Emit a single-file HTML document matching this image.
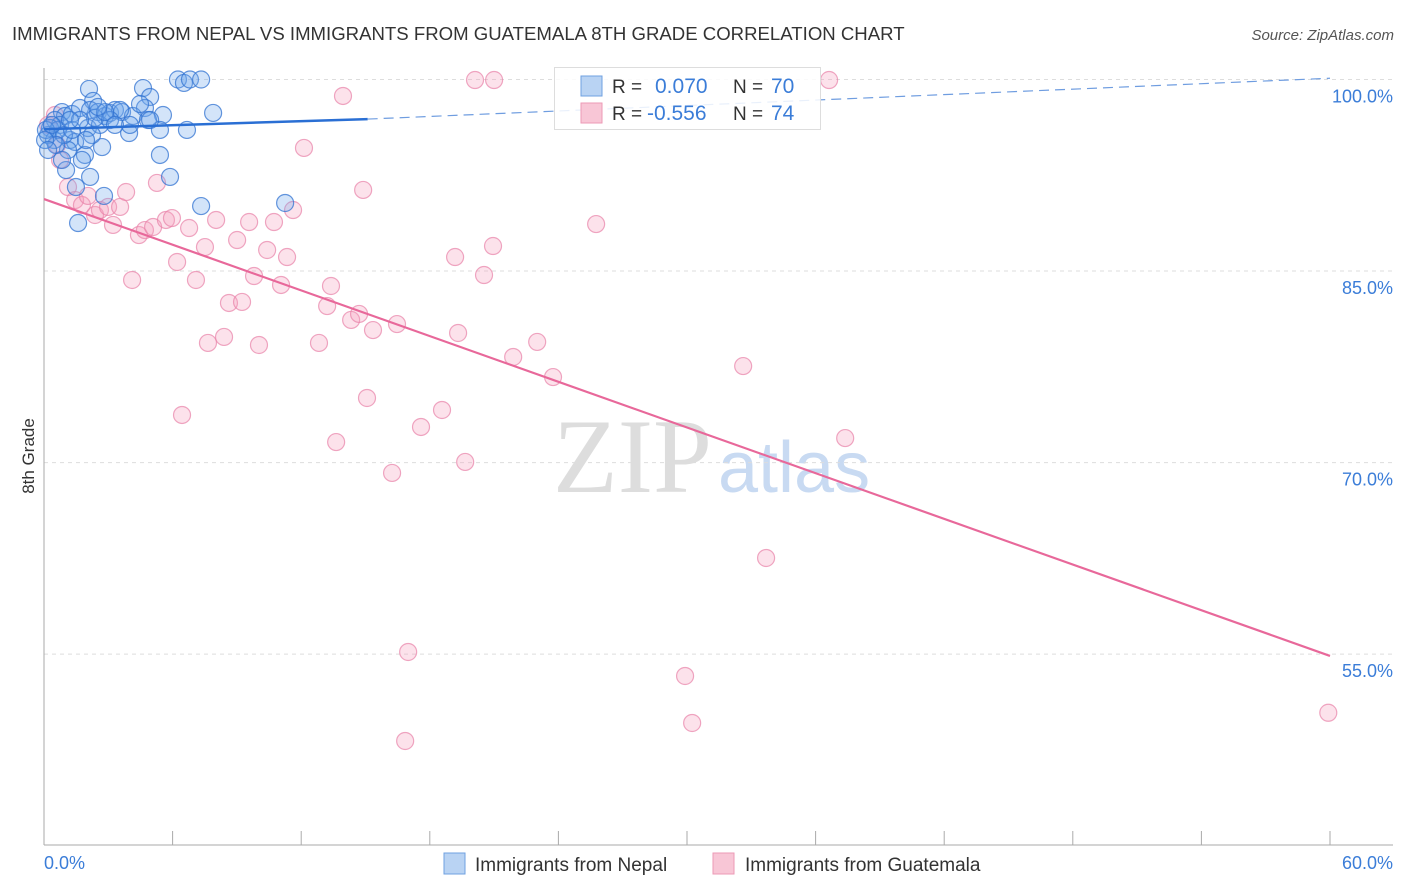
<!DOCTYPE html>
<html><head><meta charset="utf-8"><style>
body{margin:0;background:#fff;font-family:"Liberation Sans",sans-serif;}
svg{display:block}
</style></head><body>
<svg id="chart" width="1406" height="892">
<text x="12" y="40" font-size="18.6" fill="#333">IMMIGRANTS FROM NEPAL VS IMMIGRANTS FROM GUATEMALA 8TH GRADE CORRELATION CHART</text>
<text x="1394" y="40" font-size="15" fill="#555" text-anchor="end" font-style="italic">Source: ZipAtlas.com</text>
<text transform="translate(34,456) rotate(-90)" font-size="17" fill="#333" text-anchor="middle">8th Grade</text>
<g>
<text x="553" y="492" font-size="106" fill="#ddd" font-family="Liberation Serif,serif">ZIP</text>
<text x="718" y="492" font-size="72" fill="#c8daf2">atlas</text>
</g>
<g id="grid"></g>
<g id="axes"></g>
<g id="marks"></g>
<g>
<rect x="554.5" y="67.5" width="266" height="62" fill="rgba(255,255,255,0.85)" stroke="#ddd"/>
<rect x="581" y="76" width="21" height="20" fill="#b9d3f3" stroke="#6fa0e0"/>
<rect x="581" y="103" width="21" height="20" fill="#f8c6d6" stroke="#ec9ab6"/>
<text x="612" y="93" font-size="19" fill="#333">R =</text>
<text x="655" y="93" font-size="21" fill="#3b7dd8">0.070</text>
<text x="733" y="93" font-size="19" fill="#333">N =</text>
<text x="771" y="93" font-size="21" fill="#3b7dd8">70</text>
<text x="612" y="120" font-size="19" fill="#333">R =</text>
<text x="647" y="120" font-size="21" fill="#3b7dd8">-0.556</text>
<text x="733" y="120" font-size="19" fill="#333">N =</text>
<text x="771" y="120" font-size="21" fill="#3b7dd8">74</text>
</g>
<g>
<rect x="444" y="853" width="21" height="21" fill="#b9d3f3" stroke="#6fa0e0"/>
<text x="475" y="871" font-size="19" fill="#333">Immigrants from Nepal</text>
<rect x="713" y="853" width="21" height="21" fill="#f8c6d6" stroke="#ec9ab6"/>
<text x="745" y="871" font-size="19" fill="#333">Immigrants from Guatemala</text>
</g>
</svg>
<script>
const yTicks=[100,85,70,55];
const yTickLabels=["100.0%","85.0%","70.0%","55.0%"];
const xEndLabels=["0.0%","60.0%"];
const nepalX=[6.25,6.53,6.81,7.33,2.10,4.62,4.95,2.29,0.84,0.98,1.31,1.68,2.15,2.52,2.85,3.08,3.31,3.64,4.71,4.15,5.55,7.89,0.51,0.75,0.28,0.19,0.47,1.21,2.05,2.61,3.97,5.41,6.67,4.85,1.45,1.12,2.71,1.91,5.41,1.77,1.03,2.15,5.88,1.49,2.80,7.33,11.25,1.59,3.55,2.38,0.65,0.93,0.09,0.37,0.56,1.31,1.68,3.08,0.05,0.19,2.85,4.01,2.24,0.84,4.48,1.96,2.52,4.95,1.21,3.31];
const nepalY=[100.0,99.73,100,100,99.26,99.33,98.63,98.32,97.45,97.14,97.30,97.77,97.61,97.45,97.14,97.38,97.61,97.45,97.77,97.14,97.22,97.38,96.83,96.44,96.20,95.65,95.26,95.26,96.20,96.44,95.81,96.05,96.05,96.83,95.11,94.48,94.71,94.09,94.09,93.70,92.91,92.37,92.37,91.58,90.88,90.09,90.33,88.76,97.61,96.99,96.05,95.65,96.05,96.44,94.87,96.05,96.83,96.83,95.26,94.48,97.45,96.44,95.65,93.70,98.08,95.26,97.85,96.83,96.83,96.44];
const guatX=[20.11,21.00,36.63,13.95,12.13,0.51,0.19,0.61,0.75,1.12,1.45,1.77,2.05,2.38,2.61,2.99,3.22,3.55,3.83,4.11,4.43,4.71,5.09,5.27,5.69,5.97,6.21,6.44,6.77,7.09,7.51,7.65,8.03,8.40,8.63,9.01,9.24,9.57,9.80,10.03,10.41,10.73,11.06,11.34,11.62,12.83,13.21,13.39,13.63,14.33,14.70,14.89,15.07,15.35,16.24,16.47,16.85,16.99,17.59,18.57,19.18,19.32,19.65,20.53,20.95,21.89,23.01,23.75,25.76,29.91,30.24,32.62,33.69,37.38,59.92];
const guatY=[99.96,99.96,99.96,98.71,94.64,97.22,96.44,94.87,93.70,91.58,90.56,90.17,90.88,89.39,89.78,90.02,88.61,90.02,91.19,84.30,87.82,88.21,88.45,91.90,89.00,89.15,85.71,73.73,88.37,84.30,86.88,79.37,89.00,79.84,82.50,87.43,82.58,88.84,84.61,79.21,86.65,88.84,83.91,86.10,89.78,79.37,82.26,83.83,71.61,81.17,81.64,91.35,75.06,80.38,69.19,80.85,48.20,55.17,72.79,74.12,86.10,80.15,70.05,84.69,86.96,78.27,79.45,76.70,88.68,53.29,49.61,77.56,62.53,71.92,50.41];
const nepalTrend=[[0,96.1],[15.1,96.9],[60,100.1]];
const guatTrend=[[0,90.64],[60,54.86]];

const NS="http://www.w3.org/2000/svg";
const X=v=>44+v*(1286/60);
const Y=v=>79.5+(100-v)*12.77;
function mk(tag,attrs,parent){const e=document.createElementNS(NS,tag);for(const k in attrs)e.setAttribute(k,attrs[k]);parent.appendChild(e);return e;}
const grid=document.getElementById('grid'),axes=document.getElementById('axes'),marks=document.getElementById('marks');
yTicks.forEach((t,i)=>{
  const l=mk('line',{x1:44,x2:1393,y1:Y(t),y2:Y(t),stroke:'#ddd','stroke-dasharray':'4,4'},grid);
  
  
  const tx=mk('text',{x:1393,y:Y(t)+23,'font-size':18,fill:'#3b7dd8','text-anchor':'end'},axes);
  tx.textContent=yTickLabels[i];
  
  
});
let ax=mk('line',{x1:44,x2:44,y1:68,y2:845,stroke:'#aaa'},axes);


ax=mk('line',{x1:44,x2:1393,y1:845,y2:845,stroke:'#aaa'},axes);


for(let k=1;k<=10;k++){
  const t=mk('line',{x1:X(k*6),x2:X(k*6),y1:831,y2:845,stroke:'#aaa'},axes);
  
  
}
[[0,'start',44],[60,'end',1393]].forEach((d,i)=>{
  const t=mk('text',{x:d[2],y:869,'font-size':18,fill:'#3b7dd8','text-anchor':d[1]},axes);
  t.textContent=xEndLabels[i];
  
  
});
function dots(xs,ys,fill,stroke,name){
  xs.forEach((v,i)=>{
    const c=mk('circle',{cx:X(v),cy:Y(ys[i]),r:8.5,fill:fill,stroke:stroke,'stroke-width':1.2},marks);
    
    
  });
}
dots(guatX,guatY,'rgba(244,160,190,0.3)','rgba(232,130,168,0.7)','point-guatemala');
dots(nepalX,nepalY,'rgba(110,165,235,0.3)','rgba(50,115,210,0.75)','point-nepal');
let ln=mk('line',{x1:X(nepalTrend[0][0]),y1:Y(nepalTrend[0][1]),x2:X(nepalTrend[1][0]),y2:Y(nepalTrend[1][1]),stroke:'#2a6fd4','stroke-width':2.5},marks);


ln=mk('line',{x1:X(nepalTrend[1][0]),y1:Y(nepalTrend[1][1]),x2:X(nepalTrend[2][0]),y2:Y(nepalTrend[2][1]),stroke:'#6f9de0','stroke-width':1.2,'stroke-dasharray':'10,6'},marks);


ln=mk('line',{x1:X(guatTrend[0][0]),y1:Y(guatTrend[0][1]),x2:X(guatTrend[1][0]),y2:Y(guatTrend[1][1]),stroke:'#e8689a','stroke-width':2.2},marks);


</script>
</body></html>
